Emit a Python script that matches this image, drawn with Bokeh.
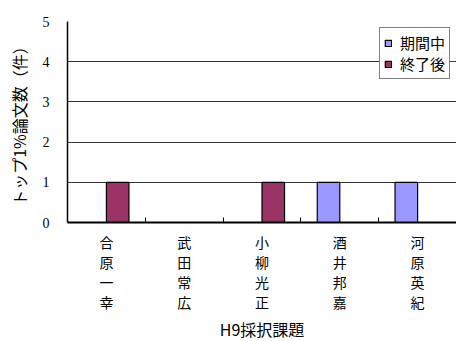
from bokeh.plotting import figure
from bokeh.models import ColumnDataSource, FixedTicker, Legend, LegendItem, Range1d
from bokeh.embed import file_html
from bokeh.resources import INLINE

# Researchers (H9 selected projects) and their top-1% paper counts
names = ["合原一幸", "武田常広", "小柳光正", "酒井邦嘉", "河原英紀"]
during = [0, 0, 0, 1, 1]   # 期間中
after = [1, 0, 1, 0, 0]    # 終了後
y_ticks = [0, 1, 2, 3, 4, 5]

JP = "Noto Sans CJK JP"
SERIF = "Liberation Serif"

centers = [i + 0.5 for i in range(len(names))]
bar_w = 0.29
src = ColumnDataSource(dict(
    x_during=[c - bar_w / 2 for c in centers],
    x_after=[c + bar_w / 2 for c in centers],
    during=during,
    after=after,
))

p = figure(frame_width=389, frame_height=201, output_backend="svg",
           toolbar_location=None,
           x_range=Range1d(0, len(names)), y_range=Range1d(0, 5),
           min_border_left=67, min_border_right=0, min_border_top=21,
           min_border_bottom=116)
p.outline_line_color = None
p.background_fill_color = "white"
p.border_fill_color = "white"

r_during = p.vbar(x="x_during", top="during", width=bar_w, source=src,
                  fill_color="#9999FF", line_color="black", line_width=1.2)
r_after = p.vbar(x="x_after", top="after", width=bar_w, source=src,
                 fill_color="#993366", line_color="black", line_width=1.2)

# horizontal gridlines (including the top border at 5)
p.xgrid.grid_line_color = None
p.ygrid.ticker = FixedTicker(ticks=y_ticks[1:])
p.ygrid.grid_line_color = "#333333"
p.ygrid.grid_line_width = 1.2

# y axis
p.yaxis.ticker = FixedTicker(ticks=y_ticks)
p.yaxis.major_tick_out = 0
p.yaxis.major_tick_in = 0
p.yaxis.minor_tick_line_color = None
p.yaxis.axis_line_color = "black"
p.yaxis.axis_line_width = 1.5
p.yaxis.major_label_text_font = SERIF
p.yaxis.major_label_text_font_size = "14px"
p.yaxis.major_label_text_color = "black"
p.yaxis.major_label_standoff = 18
p.yaxis.axis_label = "トップ1%論文数（件）"
p.yaxis.axis_label_text_font = JP
p.yaxis.axis_label_text_font_size = "16px"
p.yaxis.axis_label_text_font_style = "normal"
p.yaxis.axis_label_text_color = "black"
p.yaxis.axis_label_standoff = 9

# x axis: names stacked vertically at category centres, ticks at boundaries
p.xaxis.ticker = FixedTicker(ticks=centers, minor_ticks=[1, 2, 3, 4])
p.xaxis.major_label_overrides = {c: "\n".join(n) for c, n in zip(centers, names)}
p.xaxis.major_tick_in = 0
p.xaxis.major_tick_out = 0
p.xaxis.minor_tick_in = 5
p.xaxis.minor_tick_out = 0
p.xaxis.minor_tick_line_color = "black"
p.xaxis.axis_line_color = "black"
p.xaxis.axis_line_width = 2
p.xaxis.major_label_text_font = JP
p.xaxis.major_label_text_font_size = "14px"
p.xaxis.major_label_text_line_height = 1.0
p.xaxis.major_label_text_color = "black"
p.xaxis.major_label_standoff = 9
p.xaxis.axis_label = "H9採択課題"
p.xaxis.axis_label_text_font = JP
p.xaxis.axis_label_text_font_size = "16px"
p.xaxis.axis_label_text_font_style = "normal"
p.xaxis.axis_label_text_color = "black"
p.xaxis.axis_label_standoff = 2

legend = Legend(items=[LegendItem(label="期間中", renderers=[r_during]),
                       LegendItem(label="終了後", renderers=[r_after])],
                location="top_right")
legend.label_text_font = JP
legend.label_text_font_size = "15px"
legend.label_text_line_height = 0.8
legend.label_text_color = "black"
legend.glyph_width = 8
legend.glyph_height = 8
legend.label_standoff = 8
legend.label_height = 12
legend.spacing = -2
legend.padding = 4
legend.margin = 6
legend.border_line_color = "black"
legend.border_line_width = 1
legend.background_fill_alpha = 1
p.add_layout(legend)

open("out.html", "w").write(file_html(p, INLINE))
